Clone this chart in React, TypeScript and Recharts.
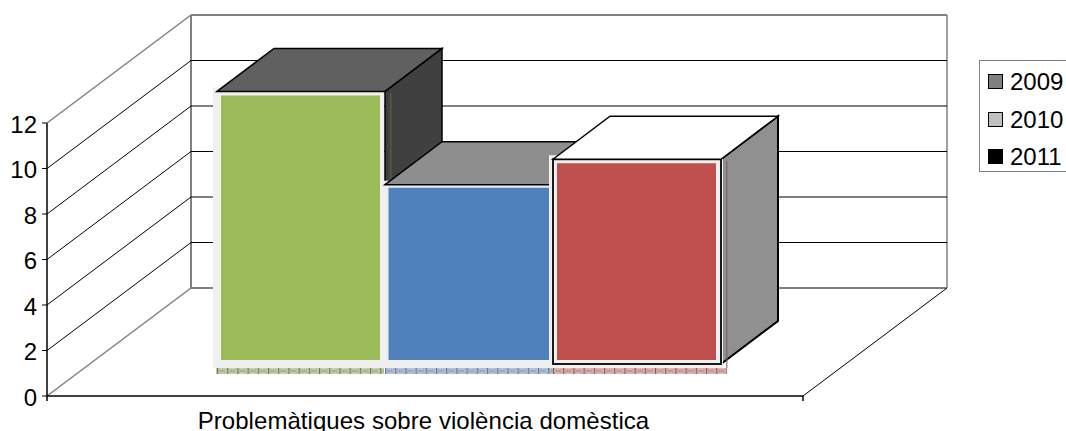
import {BarChart, Bar, XAxis, YAxis, CartesianGrid, Legend} from "recharts";

const categories = ["Problemàtiques sobre violència domèstica"];
const seriesNames = ["2009", "2010", "2011"];
const seriesValues = [12.42, 8.32, 9.44];
const yTicks = [0, 2, 4, 6, 8, 10, 12];

const chartData = categories.map((name) => {
  const row: any = {name};
  seriesNames.forEach((s, i) => {
    row[s] = seriesValues[i];
  });
  return row;
});

const LEGEND_COLORS = ["#808080", "#c0c0c0", "#000000"];
const FRONT_COLORS = ["#9bbb59", "#4f81bd", "#c0504d"];
const TOP_COLORS = ["#606060", "#8e8e8e", "#ffffff"];
const SIDE_COLORS = ["#404040", "#6a6a6a", "#909090"];
const STRIP_BG = ["#c3cfaa", "#b4c0d8", "#dcb4b2"];
const STRIP_LINE = ["#66784a", "#5f7699", "#8a5553"];

const FONT = "'Liberation Sans', Arial, sans-serif";
const FONT_SIZE = 24;

// wall and bar depth of the fake 3D
const WALL_DX = 144;
const WALL_DY = 108;
const BAR_DX = 57;
const BAR_DY = 43;
const AXIS_H = 273; // 0 to 12 on the y axis
// bars stand on a plane further in than the axis
const SHIFT_X = 44;
const SHIFT_Y = 22;

const makeBarShape = (i: number) => (props: any) => {
  const x = props.x + SHIFT_X;
  const w = props.width;
  const top = props.y - SHIFT_Y;
  const base = props.y + props.height - SHIFT_Y;
  const bottom = base - 10;
  const id = `strip-${i}`;
  const framed = i === 2;
  const innerL = i === 1 ? 3.5 : 4;
  const innerR = i === 1 ? 4 : 5;
  return (
    <g>
      <defs>
        <pattern id={id} x={x} y={base - 6} width={10.2} height={6} patternUnits="userSpaceOnUse">
          <rect width={10.2} height={6} fill={STRIP_BG[i]} />
          <path d="M1 1.5l8 3M1 4.5l8-3" stroke={STRIP_LINE[i]} strokeWidth={0.6} opacity={0.6} />
          <line x1={0.5} y1={0} x2={0.5} y2={6} stroke={STRIP_LINE[i]} />
        </pattern>
      </defs>
      <rect x={i === 0 ? x - 1 : x} y={base - 6} width={i === 2 ? w + 6 : w} height={6} fill={`url(#${id})`} />
      <polygon
        points={`${x + w},${top} ${x + w + BAR_DX},${top - BAR_DY} ${x + w + BAR_DX},${bottom - BAR_DY} ${x + w},${bottom}`}
        fill={SIDE_COLORS[i]}
        stroke="#000"
        strokeWidth={i === 2 ? 2 : 1.5}
      />
      <rect
        x={x + w + 5}
        y={top + 2}
        width={1.5}
        height={base - top - 8}
        fill={STRIP_LINE[i]}
        opacity={i === 1 ? 0 : i === 0 ? 0.5 : 0.7}
      />
      <rect
        x={x - 4}
        y={top - 4}
        width={i === 2 ? w + 6 : i === 1 ? w + 4 : w + 3}
        height={base - 6 - top + 4}
        fill="#f0f0f0"
      />
      {framed && <rect x={x} y={top} width={w} height={bottom - top} fill="#f0f0f0" stroke="#1a1a1a" strokeWidth={2} />}
      <rect
        x={x + innerL}
        y={top + (i === 1 ? 3 : 4)}
        width={w - innerL - innerR}
        height={base - 14 - top - (i === 1 ? 3 : 4)}
        fill={FRONT_COLORS[i]}
      />
      <polygon
        points={`${x},${top} ${x + BAR_DX},${top - BAR_DY} ${x + w + BAR_DX},${top - BAR_DY} ${x + w},${top}`}
        fill={TOP_COLORS[i]}
        stroke="#000"
        strokeWidth={1.5}
        strokeLinejoin="miter"
      />
    </g>
  );
};

// one grid line per y tick: a diagonal on the side wall and a line on the back wall
const WallLine = (props: any) => {
  const {x1, x2, y1} = props;
  const isFloor = Math.abs(y1 - 396) < 1;
  const isTop = Math.abs(y1 - (396 - AXIS_H)) < 1;
  // the domain runs past 12 so the tallest bar fits, no wall line up there
  if (y1 < 396 - AXIS_H - 1) return <g />;
  const edge = isFloor || isTop;
  const stroke = edge ? "#808080" : "#000";
  const backY = y1 - WALL_DY;
  return (
    <g>
      <line x1={x1} y1={y1} x2={x1 + WALL_DX} y2={backY} stroke={stroke} strokeWidth={edge ? 1.5 : 1} />
      <line x1={x1 + WALL_DX} y1={backY} x2={x2 + WALL_DX} y2={backY} stroke={stroke} strokeWidth={edge ? 2 : 1} />
      {isFloor && (
        <g>
          <line x1={x1} y1={y1 + 5} x2={x1} y2={y1 - AXIS_H} stroke="#000" strokeWidth={1.5} />
          <line x1={x1 + WALL_DX} y1={backY} x2={x1 + WALL_DX} y2={backY - AXIS_H} stroke="#808080" strokeWidth={2} />
          <line x1={x2 + WALL_DX} y1={backY} x2={x2 + WALL_DX} y2={backY - AXIS_H} stroke="#808080" strokeWidth={1.5} />
          <line x1={x2} y1={y1} x2={x2 + WALL_DX} y2={backY} stroke="#000" />
          <line x1={x2} y1={y1} x2={x2} y2={y1 + 5} stroke="#000" strokeWidth={1.5} />
        </g>
      )}
    </g>
  );
};

const YTick = (props: any) => {
  const {x, y, payload} = props;
  return (
    <g>
      <line x1={x - 5} y1={y} x2={x} y2={y} stroke="#000" />
      <text x={x - 10} y={y + 9.5} textAnchor="end" fontSize={FONT_SIZE} fontFamily={FONT} fill="#000">
        {payload.value}
      </text>
    </g>
  );
};

const XTick = (props: any) => {
  const {x, y, payload} = props;
  return (
    <text x={x - 1.5} y={y + 33} textAnchor="middle" fontSize={FONT_SIZE} letterSpacing={0.05} fontFamily={FONT} fill="#000">
      {payload.value}
    </text>
  );
};

const LegendBox = ({payload}: any) => (
  <div
    style={{
      boxSizing: "border-box",
      width: 110,
      height: 112,
      border: "1px solid #808080",
      background: "#fff",
      position: "relative",
      fontFamily: FONT,
      fontSize: FONT_SIZE,
      color: "#000",
    }}
  >
    {(payload || []).map((entry: any, i: number) => (
      <div key={entry.value} style={{position: "absolute", left: 0, top: 13 + i * 37.5, height: 15, width: 110}}>
        <span
          style={{
            position: "absolute",
            left: 8,
            top: 0,
            width: 15,
            height: 15,
            boxSizing: "border-box",
            border: "1px solid #000",
            background: entry.color,
          }}
        />
        <span style={{position: "absolute", left: 30, top: -5, lineHeight: "25px"}}>{entry.value}</span>
      </div>
    ))}
  </div>
);

export default function App() {
  return (
    <div style={{position: "absolute", left: 0, top: 0, width: 1066, height: 431, overflow: "hidden", background: "#fff"}}>
      <BarChart
        width={1066}
        height={431}
        data={chartData}
        margin={{top: 396 - (AXIS_H / 12) * 14, right: 263, bottom: 0, left: 0}}
        barCategoryGap={126}
        barGap={0}
      >
        <CartesianGrid vertical={false} horizontal={WallLine} />
        <XAxis
          dataKey="name"
          height={35}
          tickLine={false}
          tickSize={0}
          tickMargin={0}
          interval={0}
          tick={XTick}
          axisLine={{stroke: "#000", strokeWidth: 1.5}}
        />
        <YAxis width={47} domain={[0, 14]} ticks={yTicks} tickLine={false} tickSize={0} tickMargin={0} tick={YTick} axisLine={false} />
        <Legend
          layout="vertical"
          align="center"
          verticalAlign="middle"
          content={LegendBox}
          wrapperStyle={{position: "absolute", left: 979, top: 60, width: 110, height: 112, margin: 0}}
        />
        {seriesNames.map((s, i) => (
          <Bar key={s} dataKey={s} name={s} fill={LEGEND_COLORS[i]} isAnimationActive={false} shape={makeBarShape(i)} />
        ))}
      </BarChart>
    </div>
  );
}
